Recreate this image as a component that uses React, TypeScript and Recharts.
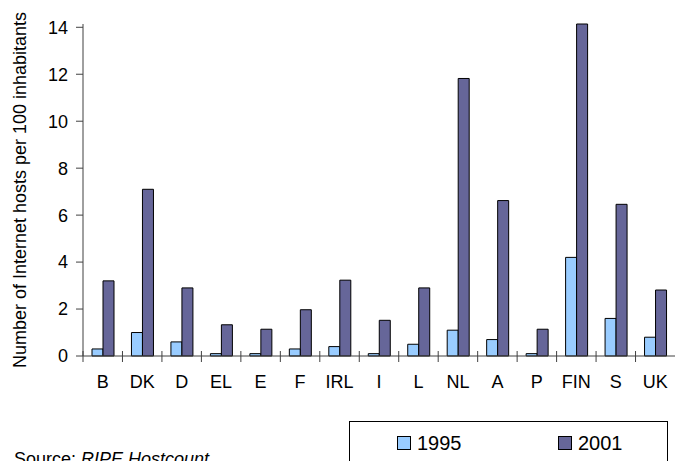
import { BarChart, Bar, XAxis, YAxis, Legend, Label } from 'recharts'

const countries = ['B', 'DK', 'D', 'EL', 'E', 'F', 'IRL', 'I', 'L', 'NL', 'A', 'P', 'FIN', 'S', 'UK']
const hosts1995 = [0.3, 1.0, 0.6, 0.1, 0.1, 0.3, 0.4, 0.1, 0.5, 1.1, 0.7, 0.1, 4.2, 1.6, 0.8]
const hosts2001 = [3.2, 7.1, 2.9, 1.33, 1.14, 1.97, 3.23, 1.52, 2.9, 11.82, 6.62, 1.14, 14.14, 6.46, 2.81]
const yTicks = [0, 2, 4, 6, 8, 10, 12, 14]

const data = countries.map((c, i) => ({ country: c, y1995: hosts1995[i], y2001: hosts2001[i] }))

const FONT = 'Arial, "Liberation Sans", sans-serif'
const AXIS = '#404040'

function CountryTick(props: any) {
  const { x, y, payload } = props
  const half = payload.offset ?? 592 / 15 / 2
  return (
    <g>
      <line x1={x - half} x2={x - half} y1={y - 5} y2={y + 6} stroke={AXIS} />
      <text x={x} y={y + 32} textAnchor="middle" fontSize={18} fontFamily={FONT} fill="#000">
        {payload.value}
      </text>
    </g>
  )
}

function LegendBox({ payload }: any) {
  return (
    <div style={{ position: 'relative', width: 319, height: 60, border: '1px solid #000', boxSizing: 'border-box', background: '#fff', fontFamily: FONT }}>
      {(payload || []).map((p: any, i: number) => (
        <div key={p.value} style={{ position: 'absolute', left: i === 0 ? 47 : 208, top: 11, display: 'flex', alignItems: 'center', lineHeight: '20px' }}>
          <span style={{ display: 'inline-block', width: 12, height: 12, border: '1px solid #000', background: p.color, marginRight: 6 }} />
          <span style={{ fontSize: 20, color: '#000' }}>{p.value}</span>
        </div>
      ))}
    </div>
  )
}

export default function App() {
  return (
    <div style={{ position: 'fixed', left: 0, top: 0, width: 675, height: 461, overflow: 'hidden', background: '#fff', fontFamily: FONT }}>
      <BarChart width={675} height={461} data={data} margin={{ top: 24, right: 0, bottom: 65, left: 0 }} barGap={0} barSize={11}>
        <XAxis dataKey="country" height={40} tickSize={0} tickMargin={0} tick={<CountryTick />}
          axisLine={{ stroke: AXIS }} tickLine={false} interval={0} />
        <YAxis width={83} domain={[0, 14]} ticks={yTicks} tickSize={7} tickMargin={8}
          tick={{ fill: '#000', fontSize: 18, fontFamily: FONT }} axisLine={{ stroke: AXIS }} tickLine={{ stroke: AXIS }}>
          <Label content={({ viewBox }: any) => (
            <text x={26} y={viewBox.y + viewBox.height / 2} transform={`rotate(-90, 26, ${viewBox.y + viewBox.height / 2})`}
              textAnchor="middle" fontSize={18} fontFamily={FONT} fill="#000">
              Number of Internet hosts per 100 inhabitants
            </text>
          )} />
        </YAxis>
        <Legend layout="horizontal" verticalAlign="middle" align="center" content={<LegendBox />}
          wrapperStyle={{ left: 349, top: 421, width: 319, height: 60 }} />
        <Bar dataKey="y1995" name="1995" fill="#99CCFF" stroke="#000" strokeWidth={1} isAnimationActive={false} />
        <Bar dataKey="y2001" name="2001" fill="#666699" stroke="#000" strokeWidth={1} isAnimationActive={false} />
      </BarChart>
      <div style={{ position: 'absolute', left: 14, top: 450, fontSize: 18, lineHeight: '18px', color: '#000', whiteSpace: 'nowrap' }}>
        Source: <i>RIPE Hostcount</i>
      </div>
    </div>
  )
}
